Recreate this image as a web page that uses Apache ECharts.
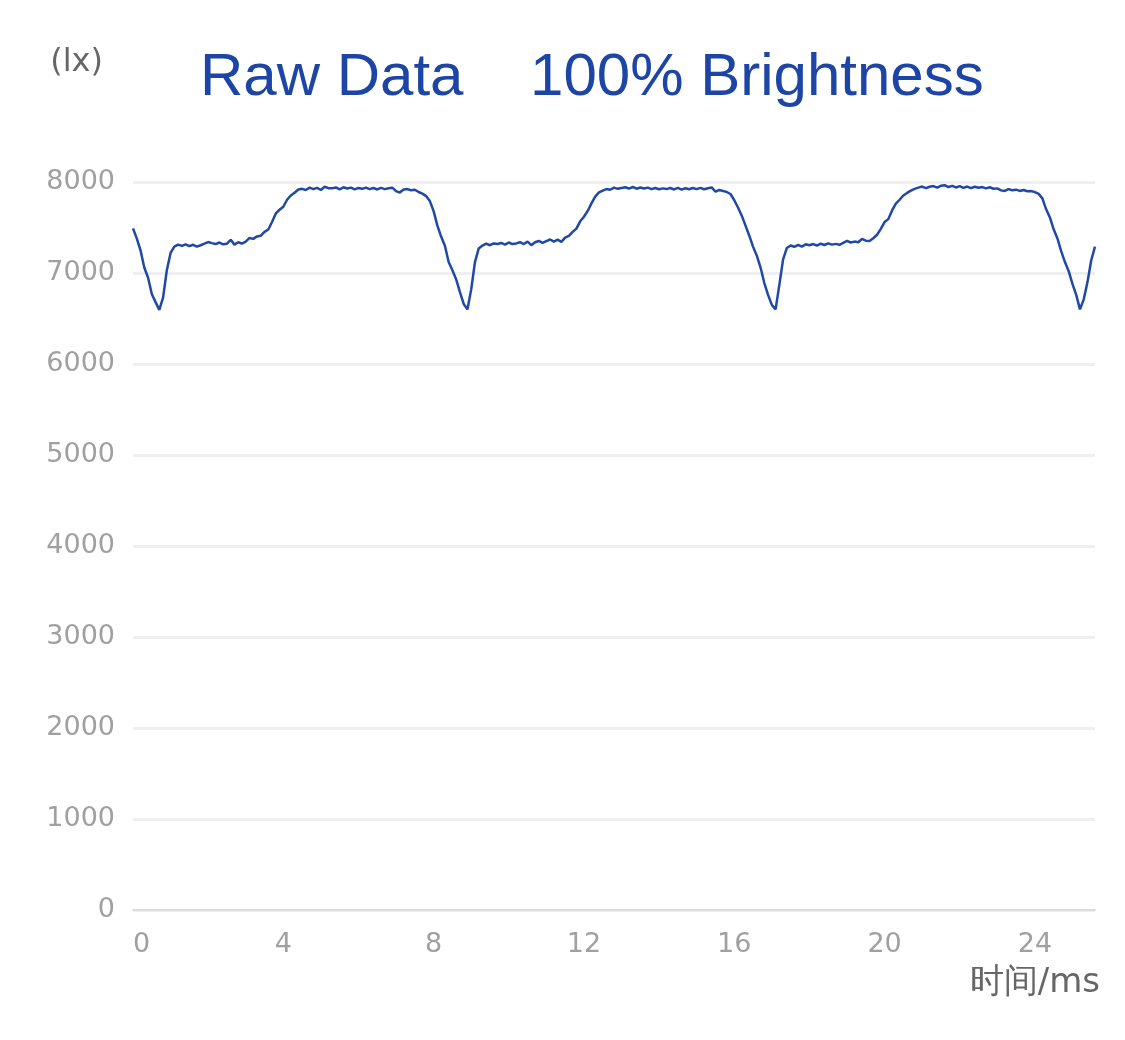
<!DOCTYPE html>
<html>
<head>
<meta charset="utf-8">
<script src="https://cdn.jsdelivr.net/npm/echarts@6/dist/echarts.min.js"></script>
<style>
html,body{margin:0;padding:0;background:#fff;}
#chart{width:1125px;height:1040px;}
</style>
</head>
<body>
<div id="chart"></div>
<script>
// ---- data ----
var titleText = 'Raw Data    100% Brightness';
var yAxisName = '(lx)';
var xAxisName = '时间/ms';
var sampleStepMs = 0.1; // one sample every 0.1 ms, starting at 0 ms
var xTicks = [0, 4, 8, 12, 16, 20, 24];
var yTicks = [0, 1000, 2000, 3000, 4000, 5000, 6000, 7000, 8000];
// illuminance (lx), cycle 1 : 0.0 - 8.1 ms
var lux1 = [
  7490, 7380, 7250, 7060, 6950, 6770, 6680, 6595, 6730, 7030,
  7220, 7290, 7312, 7298, 7315, 7296, 7310, 7290, 7305, 7322,
  7340, 7328, 7318, 7335, 7315, 7322, 7365, 7312, 7338, 7322,
  7345, 7385, 7375, 7402, 7410, 7452, 7478, 7560, 7655, 7695,
  7728, 7805, 7852, 7882, 7918, 7925, 7912, 7938, 7922, 7935,
  7912, 7948, 7932, 7930, 7940, 7920, 7942, 7928, 7938, 7918,
  7935, 7925, 7938, 7922, 7934, 7918, 7936, 7922, 7932, 7938,
  7900, 7885, 7918, 7922, 7910, 7915, 7890, 7872, 7845, 7790,
  7680, 7520
];
// cycle 2 : 8.2 - 16.9 ms
var lux2 = [
  7400, 7300, 7120, 7030, 6930, 6790, 6660, 6600, 6820, 7120,
  7270, 7302, 7322, 7305, 7325, 7318, 7330, 7312, 7335, 7318,
  7325, 7338, 7318, 7345, 7306, 7338, 7352, 7330, 7350, 7368,
  7345, 7366, 7342, 7388, 7408, 7452, 7488, 7568, 7618, 7682,
  7765, 7840, 7885, 7905, 7922, 7915, 7938, 7925, 7935, 7942,
  7928, 7945, 7926, 7940, 7928, 7938, 7922, 7934, 7920, 7930,
  7922, 7934, 7918, 7935, 7916, 7932, 7920, 7934, 7922, 7936,
  7920, 7932, 7940, 7895, 7912, 7902, 7890, 7868, 7800, 7720,
  7630, 7520, 7410, 7290, 7190, 7060, 6890, 6760
];
// cycle 3 : 17.0 - 25.6 ms
var lux3 = [
  6650, 6600, 6870, 7150, 7275, 7302, 7288, 7310, 7290, 7315,
  7305, 7318, 7302, 7322, 7308, 7325, 7312, 7320, 7310, 7332,
  7352, 7335, 7345, 7338, 7375, 7355, 7352, 7382, 7420, 7485,
  7560, 7592, 7688, 7762, 7805, 7852, 7880, 7905, 7925, 7938,
  7950, 7932, 7948, 7955, 7938, 7958, 7965, 7945, 7958, 7940,
  7955, 7936, 7950, 7932, 7948, 7936, 7944, 7930, 7942, 7926,
  7930, 7908, 7902, 7922, 7910, 7916, 7902, 7912, 7898, 7900,
  7890, 7870, 7820, 7700, 7610, 7480, 7380, 7240, 7120, 7020,
  6880, 6760, 6600, 6710, 6900, 7140, 7290
];

var luxValues = lux1.concat(lux2, lux3);
var seriesData = luxValues.map(function (v, i) {
  return [Math.round(i * sampleStepMs * 10) / 10, v];
});

var chart = echarts.init(document.getElementById('chart'), null, {renderer: 'canvas'});
var labelFont = 'DejaVu Sans';
chart.setOption({
  animation: false,
  backgroundColor: '#ffffff',
  title: {
    text: titleText,
    left: 195,
    top: 43,
    textStyle: {
      fontFamily: 'Liberation Sans',
      fontSize: 60,
      fontWeight: 'normal',
      color: '#1c45a6',
      lineHeight: 60
    }
  },
  grid: {left: 133, right: 30, top: 182, bottom: 130, containLabel: false},
  xAxis: {
    type: 'value',
    min: xTicks[0],
    max: 25.6,
    interval: xTicks[1] - xTicks[0],
    name: xAxisName,
    nameLocation: 'end',
    nameGap: 5,
    nameTextStyle: {
      fontFamily: labelFont,
      fontSize: 34,
      color: '#666666',
      align: 'right',
      verticalAlign: 'top',
      padding: [56, 0, 0, 0]
    },
    axisLine: {show: true, lineStyle: {color: '#dcdcdc', width: 2}},
    axisTick: {show: false},
    splitLine: {show: false},
    axisLabel: {
      show: true,
      showMaxLabel: false,
      alignMinLabel: 'left',
      margin: 21,
      fontFamily: labelFont,
      fontSize: 27,
      color: '#a0a0a0',
      formatter: function (v) { return xTicks.indexOf(v) >= 0 ? String(v) : ''; }
    }
  },
  yAxis: {
    type: 'value',
    min: yTicks[0],
    max: yTicks[yTicks.length - 1],
    interval: yTicks[1] - yTicks[0],
    name: yAxisName,
    nameLocation: 'end',
    nameGap: 119,
    nameTextStyle: {
      fontFamily: labelFont,
      fontSize: 32,
      color: '#666666',
      align: 'right',
      verticalAlign: 'middle',
      padding: [0, 30, 0, 0]
    },
    axisLine: {show: false},
    axisTick: {show: false},
    splitLine: {show: true, lineStyle: {color: '#efefef', width: 3}},
    axisLabel: {
      margin: 18,
      fontFamily: labelFont,
      fontSize: 27,
      color: '#a0a0a0',
      formatter: function (v) { return String(v); }
    }
  },
  series: [{
    type: 'line',
    data: seriesData,
    showSymbol: false,
    symbol: 'none',
    smooth: false,
    lineStyle: {color: '#1f48a8', width: 2.5},
    z: 3
  }]
});
</script>
</body>
</html>
